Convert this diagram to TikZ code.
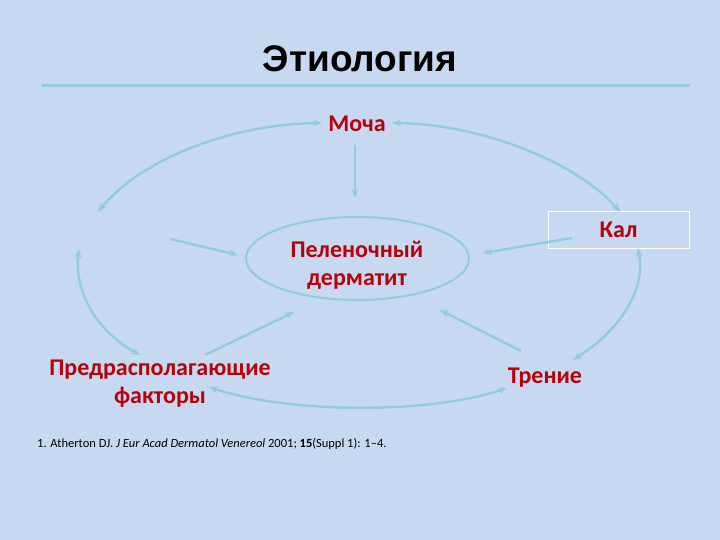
\documentclass[tikz,border=0pt]{standalone}
\usepackage{fontspec}
\setmainfont{Carlito}
\newfontfamily\titlefont{Liberation Sans}
\usetikzlibrary{arrows.meta,shapes.geometric}
\definecolor{bg}{RGB}{198,217,240}
\definecolor{arr}{RGB}{147,205,221}
\definecolor{dred}{RGB}{185,0,10}
\tikzset{
  lbl/.style={text=dred, font=\fontsize{24}{28}\selectfont\bfseries, align=center, inner sep=0pt},
  conn/.style={draw=arr, line width=2.4pt, -{Stealth[length=9pt,width=7pt]}},
  conn2/.style={draw=arr, line width=2.4pt, {Stealth[length=9pt,width=7pt]}-{Stealth[length=9pt,width=7pt]}},
}
\begin{document}
\begin{tikzpicture}[x=1pt,y=-1pt]
\path[fill=bg] (0,0) rectangle (720,540);
\useasboundingbox (0,0) rectangle (720,540);
% title
\node (title) at (360,59) {\titlefont\fontsize{37}{42}\selectfont\bfseries Этиология};
\draw[arr, line width=3pt] (42,86) -- (690,86);
% nodes
\node[lbl] (moca) at (357,124) {Моча};
\node[draw=arr, line width=2pt, ellipse, minimum width=223pt, minimum height=83pt, inner sep=0pt] (ell) at (357.5,258.5) {};
\node[lbl] (derm) at (357,265) {Пеленочный\\дерматит};
\node[draw=white, line width=1pt, minimum width=141pt, minimum height=36pt, inner sep=0pt] (kal) at (618.5,230) {};
\node[lbl] at (kal.center) {Кал};
\node[lbl] (pred) at (160,384) {Предрасполагающие\\факторы};
\node[lbl] (tren) at (545,378) {Трение};
\node[anchor=west, inner sep=0pt, font=\fontsize{12.5}{14}\selectfont] (ref) at (37,444) {1. Atherton DJ. \textit{J Eur Acad Dermatol Venereol} 2001; \textbf{15}(Suppl 1): 1--4.};
% coordinates
\coordinate (m1) at (322,123);
\coordinate (m2) at (392,123);
\coordinate (l1) at (98,212);
\coordinate (k1) at (620,212);
\coordinate (l2) at (79,249);
\coordinate (p1) at (140,355);
\coordinate (k2) at (638,248);
\coordinate (t1) at (573,360);
\coordinate (p2) at (209,387);
\coordinate (t2) at (507,388);
\coordinate (ms) at (355,145);
\coordinate (me) at (355,198);
\coordinate (a7s) at (170,239);
\coordinate (a7e) at (238,255);
\coordinate (a8s) at (572,238);
\coordinate (a8e) at (483,253);
\coordinate (a9s) at (205,355);
\coordinate (a9e) at (294,312);
\coordinate (a10s) at (521,351);
\coordinate (a10e) at (440,310);
% connectors
\draw[conn] (ms) -- (me);
\draw[conn] (a7s) -- (a7e);
\draw[conn] (a8s) -- (a8e);
\draw[conn] (a9s) -- (a9e);
\draw[conn] (a10s) -- (a10e);
\draw[conn2] (m1) .. controls (230,124) and (140,160) .. (l1);
\draw[conn2] (m2) .. controls (485,124) and (580,165) .. (k1);
\draw[conn2] (l2) .. controls (74,290) and (95,330) .. (p1);
\draw[conn2] (k2) .. controls (646,290) and (620,330) .. (t1);
\draw[conn2] (p2) .. controls (290,414) and (430,414) .. (t2);
\end{tikzpicture}
\end{document}
